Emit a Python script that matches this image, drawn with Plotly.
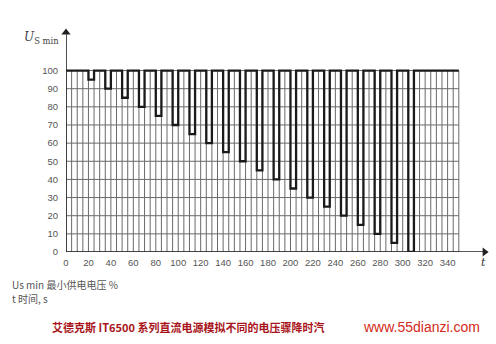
import plotly.graph_objects as go

# ---- data ----
dip_start = [20, 35, 50, 65, 80, 95, 110, 125, 140, 155, 170, 185, 200, 215, 230, 245, 260, 275, 290, 305]
dip_level = [95, 90, 85, 80, 75, 70, 65, 60, 55, 50, 45, 40, 35, 30, 25, 20, 15, 10, 5, 0]
dip_width = 5
nominal = 100
t_end = 350
x_ticks = [0, 20, 40, 60, 80, 100, 120, 140, 160, 180, 200, 220, 240, 260, 280, 300, 320, 340]
y_ticks = [0, 10, 20, 30, 40, 50, 60, 70, 80, 90, 100]
grid_x = list(range(0, 355, 5))
x_axis_end = 376
y_axis_end = 124

# build waveform
wx, wy = [0], [nominal]
for s, lv in zip(dip_start, dip_level):
    wx += [s, s, s + dip_width, s + dip_width]
    wy += [nominal, lv, lv, nominal]
wx.append(t_end)
wy.append(nominal)

# grid
gx, gy = [], []
for x in grid_x:
    gx += [x, x, None]
    gy += [0, 100, None]
for y in y_ticks:
    gx += [0, t_end, None]
    gy += [y, y, None]

fig = go.Figure()
fig.add_trace(go.Scatter(x=gx, y=gy, mode="lines", line=dict(color="#6a6a6a", width=1),
                         hoverinfo="skip", showlegend=False))
fig.add_trace(go.Scatter(x=wx, y=wy, mode="lines", line=dict(color="#1a1a1a", width=2.3),
                         showlegend=False))
# axes lines
fig.add_trace(go.Scatter(x=[0, x_axis_end - 4, None, 0, 0], y=[0, 0, None, 0, y_axis_end - 4],
                         mode="lines", line=dict(color="#222", width=1.6),
                         hoverinfo="skip", showlegend=False, cliponaxis=False))
# arrowheads
fig.add_trace(go.Scatter(x=[x_axis_end - 3], y=[0], mode="markers",
                         marker=dict(symbol="triangle-right", size=8, color="#222"),
                         hoverinfo="skip", showlegend=False, cliponaxis=False))
fig.add_trace(go.Scatter(x=[0], y=[y_axis_end - 3], mode="markers",
                         marker=dict(symbol="triangle-up", size=8, color="#222"),
                         hoverinfo="skip", showlegend=False, cliponaxis=False))

W, H = 496, 344
L, R, T, B = 66, 8, 27, 92

fig.update_layout(
    width=W, height=H,
    margin=dict(l=L, r=R, t=T, b=B),
    paper_bgcolor="white", plot_bgcolor="white",
    xaxis=dict(range=[0, x_axis_end], showgrid=False, zeroline=False, showline=False,
               tickvals=x_ticks, ticks="", ticklen=0, ticklabelstandoff=3,
               tickfont=dict(family="Liberation Sans, Arial", size=9.5, color="#555")),
    yaxis=dict(range=[0, y_axis_end], showgrid=False, zeroline=False, showline=False,
               tickvals=y_ticks, ticks="", ticklen=0, ticklabelstandoff=7,
               tickfont=dict(family="Liberation Sans, Arial", size=9.5, color="#555")),
    font=dict(family="Liberation Sans, Arial"),
)

def px(xp):
    return (xp - L) / (W - L - R)

def py(yp):
    return (H - B - yp) / (H - T - B)

def note(xp, yp, text, font, xanchor="left"):
    fig.add_annotation(x=px(xp), y=py(yp), xref="paper", yref="paper", showarrow=False,
                       xanchor=xanchor, yanchor="middle", text=text, font=font)

note(483, 262, "<i>t</i>", dict(family="DejaVu Serif", size=11, color="#333"), xanchor="center")
note(22, 38, "<i>U</i><sub>S min</sub>", dict(family="DejaVu Serif", size=12, color="#444"))
note(10, 284, "Us min 最小供电电压 %", dict(family="Noto Sans CJK SC", size=10, color="#555"))
note(10, 298, "t 时间, s", dict(family="Noto Sans CJK SC", size=10, color="#555"))
note(50, 327, "<b>艾德克斯 IT6500 系列直流电源模拟不同的电压骤降时汽</b>",
     dict(family="Noto Sans CJK SC", size=11, color="#a8141a"))
note(361, 327, "www.55dianzi.com", dict(family="Liberation Sans, Arial", size=14, color="#d42a20"))

fig.write_html("out.html")
